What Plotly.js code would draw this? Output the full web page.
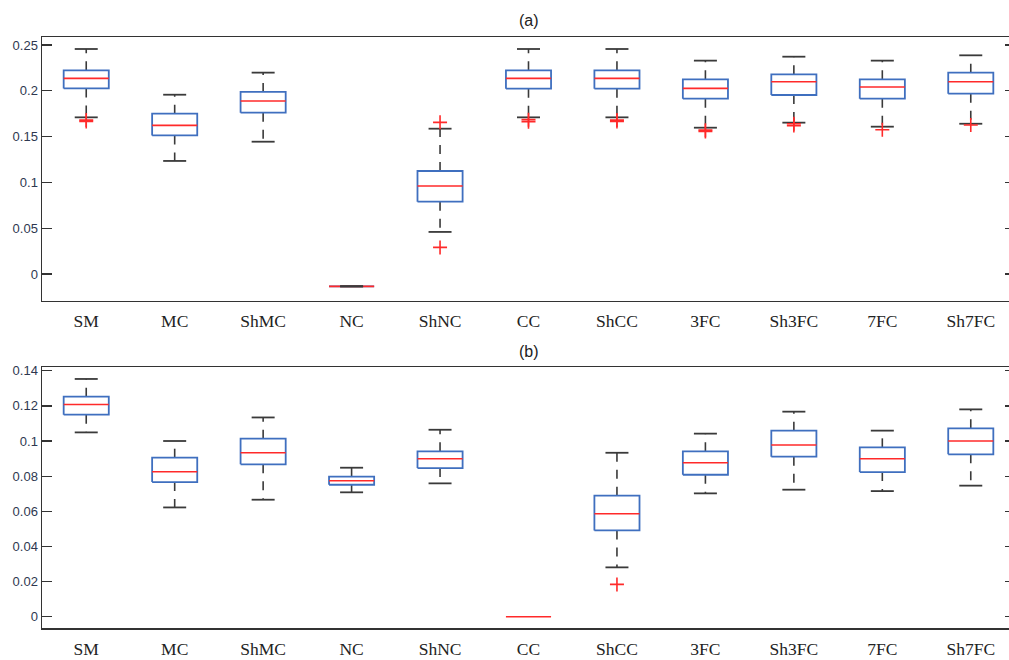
<!DOCTYPE html>
<html>
<head>
<meta charset="utf-8">
<script src="https://cdn.plot.ly/plotly-3.0.1.min.js"></script>
<style>
html,body{margin:0;padding:0;overflow:hidden;background:#fff;}
#chart{width:1020px;height:660px;}
</style>
</head>
<body>
<div id="chart"></div>
<script>
// Categories
var categories = ['SM','MC','ShMC','NC','ShNC','CC','ShCC','3FC','Sh3FC','7FC','Sh7FC'];

// Panel (a) box statistics
var aLower  = [0.1710, 0.1234, 0.1444, -0.0138, 0.0459, 0.1710, 0.1710, 0.1597, 0.1652, 0.1608, 0.1640];
var aQ1     = [0.2026, 0.1513, 0.1761, -0.0136, 0.0789, 0.2023, 0.2023, 0.1914, 0.1954, 0.1914, 0.1968];
var aMedian = [0.2135, 0.1622, 0.1889, -0.0135, 0.0961, 0.2135, 0.2135, 0.2026, 0.2099, 0.2041, 0.2099];
var aQ3     = [0.2223, 0.1750, 0.1987, -0.0134, 0.1124, 0.2223, 0.2223, 0.2125, 0.2179, 0.2125, 0.2198];
var aUpper  = [0.2456, 0.1957, 0.2198, -0.0132, 0.1586, 0.2456, 0.2456, 0.2329, 0.2372, 0.2329, 0.2387];
// Panel (a) outliers: category index and value
var aOutCat = [0, 0, 4, 4, 5, 5, 6, 6, 7, 7, 8, 8, 9, 10];
var aOutVal = [0.1680, 0.1665, 0.1655, 0.0290, 0.1685, 0.1663, 0.1680, 0.1665, 0.1570, 0.1555, 0.1640, 0.1620, 0.1575, 0.1627];

// Panel (b) box statistics
var bLower  = [0.1049, 0.0622, 0.0666, 0.0708, 0.0759, 0, 0.0281, 0.0702, 0.0723, 0.0715, 0.0746];
var bQ1     = [0.1150, 0.0766, 0.0867, 0.0751, 0.0846, 0, 0.0491, 0.0808, 0.0911, 0.0823, 0.0924];
var bMedian = [0.1208, 0.0825, 0.0933, 0.0774, 0.0899, 0, 0.0586, 0.0876, 0.0977, 0.0899, 0.1000];
var bQ3     = [0.1252, 0.0905, 0.1013, 0.0797, 0.0941, 0, 0.0689, 0.0941, 0.1059, 0.0964, 0.1072];
var bUpper  = [0.1353, 0.1000, 0.1134, 0.0848, 0.1064, 0, 0.0933, 0.1042, 0.1167, 0.1059, 0.1180];
var bOutCat = [6];
var bOutVal = [0.0184];

// Tick labels
var aTickVals = [0, 0.05, 0.1, 0.15, 0.2, 0.25];
var aTickText = ['0', '0.05', '0.1', '0.15', '0.2', '0.25'];
var bTickVals = [0, 0.02, 0.04, 0.06, 0.08, 0.1, 0.12, 0.14];
var bTickText = ['0', '0.02', '0.04', '0.06', '0.08', '0.1', '0.12', '0.14'];

var BOXW = 0.255, CAPW = 0.13;
var BLUE = '#3f6fbf', RED = '#ff2a2a', WHISK = '#3a3a3a';

function panelTraces(lo, q1, med, q3, hi, outCat, outVal, ya) {
  var bx = [], by = [], wx = [], wy = [], cx = [], cy = [], mx = [], my = [];
  for (var i = 0; i < categories.length; i++) {
    var flat = (hi[i] === lo[i]);
    if (!flat) {
      bx.push(i - BOXW, i + BOXW, i + BOXW, i - BOXW, i - BOXW, null);
      by.push(q1[i], q1[i], q3[i], q3[i], q1[i], null);
      wx.push(i, i, null, i, i, null);
      wy.push(q3[i], hi[i], null, q1[i], lo[i], null);
      cx.push(i - CAPW, i + CAPW, null, i - CAPW, i + CAPW, null);
      cy.push(hi[i], hi[i], null, lo[i], lo[i], null);
    }
    mx.push(i - BOXW, i + BOXW, null);
    my.push(med[i], med[i], null);
  }
  var xa = ya === 'y' ? 'x' : 'x2';
  return [
    {x: wx, y: wy, xaxis: xa, yaxis: ya, mode: 'lines', line: {color: WHISK, width: 1.6, dash: '9px,8px'}, hoverinfo: 'skip'},
    {x: bx, y: by, xaxis: xa, yaxis: ya, mode: 'lines', line: {color: BLUE, width: 1.8}, hoverinfo: 'skip'},
    {x: mx, y: my, xaxis: xa, yaxis: ya, mode: 'lines', line: {color: RED, width: 1.6}, hoverinfo: 'skip'},
    {x: cx, y: cy, xaxis: xa, yaxis: ya, mode: 'lines', line: {color: WHISK, width: 1.8}, hoverinfo: 'skip'},
    {x: outCat, y: outVal, xaxis: xa, yaxis: ya, mode: 'markers',
     marker: {symbol: 'cross-thin', size: 10, color: RED, line: {color: RED, width: 1.6}}, hoverinfo: 'skip'}
  ];
}

var traces = [].concat(
  panelTraces(aLower, aQ1, aMedian, aQ3, aUpper, aOutCat, aOutVal, 'y'),
  panelTraces(bLower, bQ1, bMedian, bQ3, bUpper, bOutCat, bOutVal, 'y2')
);

var catIdx = categories.map(function (c, i) { return i; });
var xCommon = {
  range: [-0.5, 10.5], tickvals: catIdx, ticktext: categories, ticks: '',
  showgrid: false, zeroline: false, showline: true, mirror: true,
  linecolor: '#333', linewidth: 1.5, ticklabelstandoff: 4,
  tickfont: {family: 'Liberation Serif, Times New Roman, serif', size: 17.5, color: '#222'}
};
var yCommon = {
  showgrid: false, zeroline: false, showline: true, mirror: 'ticks',
  linecolor: '#333', linewidth: 1.5, ticks: 'inside', ticklen: 10, tickwidth: 1.3, tickcolor: '#333',
  tickfont: {family: 'Liberation Sans, Arial, sans-serif', size: 13, color: '#2e3850'}
};

var layout = {
  width: 1020, height: 660,
  margin: {l: 42, r: 4.5, t: 37, b: 32},
  paper_bgcolor: '#fff', plot_bgcolor: '#fff',
  showlegend: false,
  xaxis: Object.assign({}, xCommon, {anchor: 'y'}),
  xaxis2: Object.assign({}, xCommon, {anchor: 'y2'}),
  yaxis: Object.assign({}, yCommon, {domain: [0.5533, 1], range: [-0.0295, 0.2587], tickvals: aTickVals, ticktext: aTickText, anchor: 'x'}),
  yaxis2: Object.assign({}, yCommon, {domain: [0, 0.4416], range: [-0.0064, 0.1421], tickvals: bTickVals, ticktext: bTickText, anchor: 'x2'}),
  annotations: [
    {text: '(a)', xref: 'paper', yref: 'paper', x: 0.5, y: 1, yanchor: 'middle', yshift: 17, showarrow: false,
     font: {family: 'Liberation Sans, Arial, sans-serif', size: 16, color: '#222'}},
    {text: '(b)', xref: 'paper', yref: 'paper', x: 0.5, y: 0.4416, yanchor: 'middle', yshift: 16, showarrow: false,
     font: {family: 'Liberation Sans, Arial, sans-serif', size: 16, color: '#222'}}
  ]
};

Plotly.newPlot('chart', traces, layout, {displayModeBar: false, staticPlot: true});
</script>
</body>
</html>
